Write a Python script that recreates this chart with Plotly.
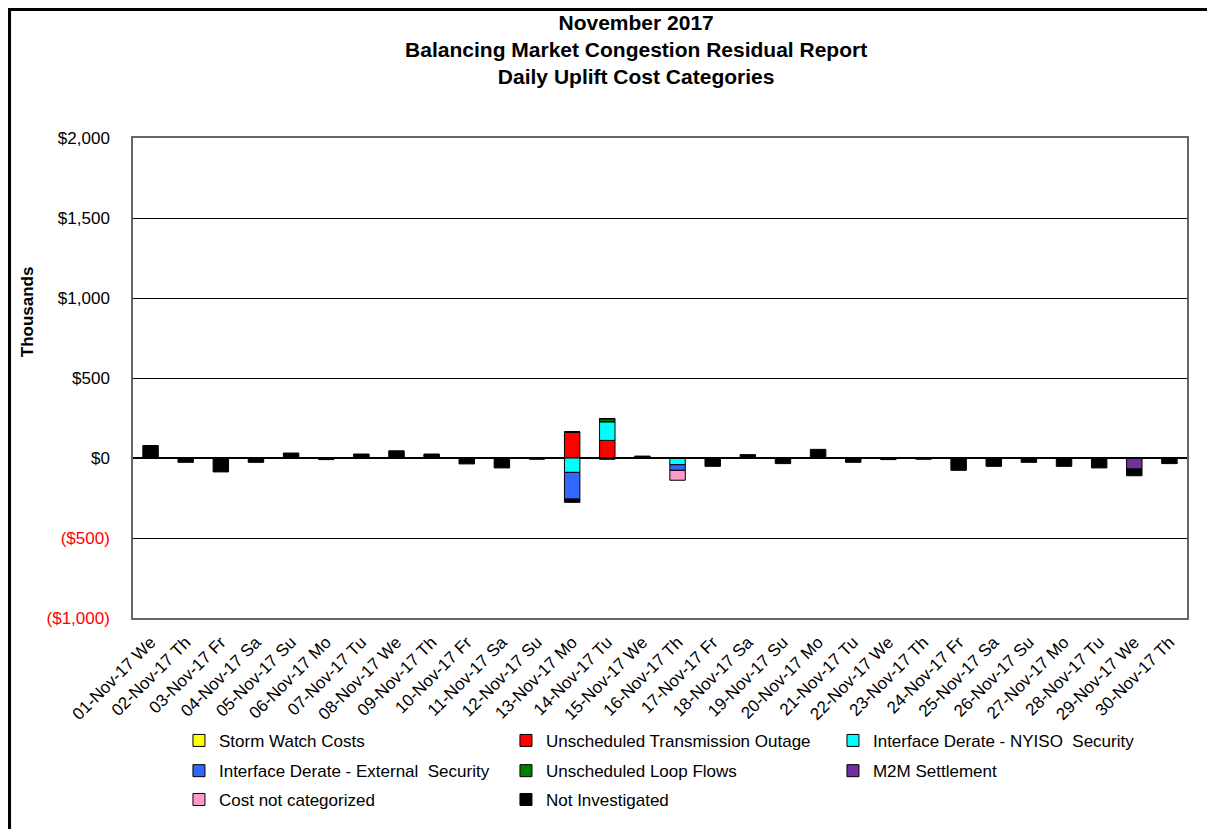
import plotly.graph_objects as go

# daily uplift cost categories, $ thousands
days = ["01-Nov-17 We", "02-Nov-17 Th", "03-Nov-17 Fr", "04-Nov-17 Sa", "05-Nov-17 Su",
        "06-Nov-17 Mo", "07-Nov-17 Tu", "08-Nov-17 We", "09-Nov-17 Th", "10-Nov-17 Fr",
        "11-Nov-17 Sa", "12-Nov-17 Su", "13-Nov-17 Mo", "14-Nov-17 Tu", "15-Nov-17 We",
        "16-Nov-17 Th", "17-Nov-17 Fr", "18-Nov-17 Sa", "19-Nov-17 Su", "20-Nov-17 Mo",
        "21-Nov-17 Tu", "22-Nov-17 We", "23-Nov-17 Th", "24-Nov-17 Fr", "25-Nov-17 Sa",
        "26-Nov-17 Su", "27-Nov-17 Mo", "28-Nov-17 Tu", "29-Nov-17 We", "30-Nov-17 Th"]

storm_watch = [0] * 30
uns_transmission = [0] * 12 + [162, 110] + [0] * 16
nyiso_security = [0] * 12 + [-90, 117, 0, -42] + [0] * 14
external_security = [0] * 12 + [-167, 0, 0, -35] + [0] * 14
loop_flows = [0] * 13 + [19] + [0] * 16
m2m_settlement = [0] * 28 + [-69, 0]
not_categorized = [0] * 15 + [-62] + [0] * 14
not_investigated = [78, -27, -87, -27, 31, -10, 25, 45, 25, -37,
                    -62, -8, -20, -8, 12, 0, -52, 21, -35, 54,
                    -27, -10, -8, -77, -52, -27, -52, -62, -42, -35]

# name, values, colour, legend row
series = [
    ("Storm Watch Costs", storm_watch, "#FFFF00", "legend"),
    ("Unscheduled Transmission Outage", uns_transmission, "#FF0000", "legend"),
    ("Interface Derate - NYISO  Security", nyiso_security, "#00FFFF", "legend"),
    ("Interface Derate - External  Security", external_security, "#3366FF", "legend2"),
    ("Unscheduled Loop Flows", loop_flows, "#008000", "legend2"),
    ("M2M Settlement", m2m_settlement, "#7030A0", "legend2"),
    ("Cost not categorized", not_categorized, "#FF99CC", "legend3"),
    ("Not Investigated", not_investigated, "#000000", "legend3"),
]

fig = go.Figure()
for name, vals, col, leg in series:
    fig.add_trace(go.Bar(x=days, y=vals, name=name, marker_color=col, legend=leg,
                         marker_line=dict(color="black", width=1)))

tickvals = [-1000, -500, 0, 500, 1000, 1500, 2000]
ticktext = ["<span style='color:red'>($1,000)</span>", "<span style='color:red'>($500)</span>",
            "$0", "$500", "$1,000", "$1,500", "$2,000"]

# one legend per row so rows sit where the reference has them
leg_common = dict(orientation="h", x=0.0436, xanchor="left", yanchor="middle",
                  entrywidth=282, font=dict(size=17), traceorder="normal",
                  itemwidth=30, bgcolor="rgba(0,0,0,0)")

fig.update_layout(
    width=1215, height=829,
    barmode="relative", bargap=0.56,
    plot_bgcolor="white", paper_bgcolor="white",
    font=dict(family="Liberation Sans, Arial", size=15, color="black"),
    margin=dict(l=125, r=36, t=130, b=219),
    title=dict(text="<b>November 2017<br>Balancing Market Congestion Residual Report<br>Daily Uplift Cost Categories</b>",
               x=0.517, xanchor="center", y=0.974, yanchor="top", font=dict(size=21)),
    xaxis=dict(tickangle=-45, showline=True, linecolor="#666", linewidth=1.5, mirror=True,
               ticks="", tickfont=dict(size=17), ticklabelstandoff=6),
    yaxis=dict(range=[-1000, 2000], tickvals=tickvals, ticktext=ticktext,
               showgrid=True, gridcolor="black", gridwidth=1,
               showline=True, linecolor="#666", linewidth=1.5, mirror=True,
               zeroline=True, zerolinecolor="black", zerolinewidth=2,
               ticks="", tickfont=dict(size=17), ticklabelstandoff=18),
    legend=dict(leg_common, y=-0.256),
    legend2=dict(leg_common, y=-0.319),
    legend3=dict(leg_common, y=-0.379),
    showlegend=True,
)

fig.add_annotation(text="<b>Thousands</b>", textangle=-90, xref="paper", yref="paper",
                   x=-0.111, y=0.737, showarrow=False, font=dict(size=17))

# outer frame of the chart
fig.add_shape(type="rect", xref="paper", yref="paper",
              x0=-0.1176, x1=1.2, y0=-0.6, y1=1.269,
              line=dict(color="black", width=4))

fig.write_html("out.html")
